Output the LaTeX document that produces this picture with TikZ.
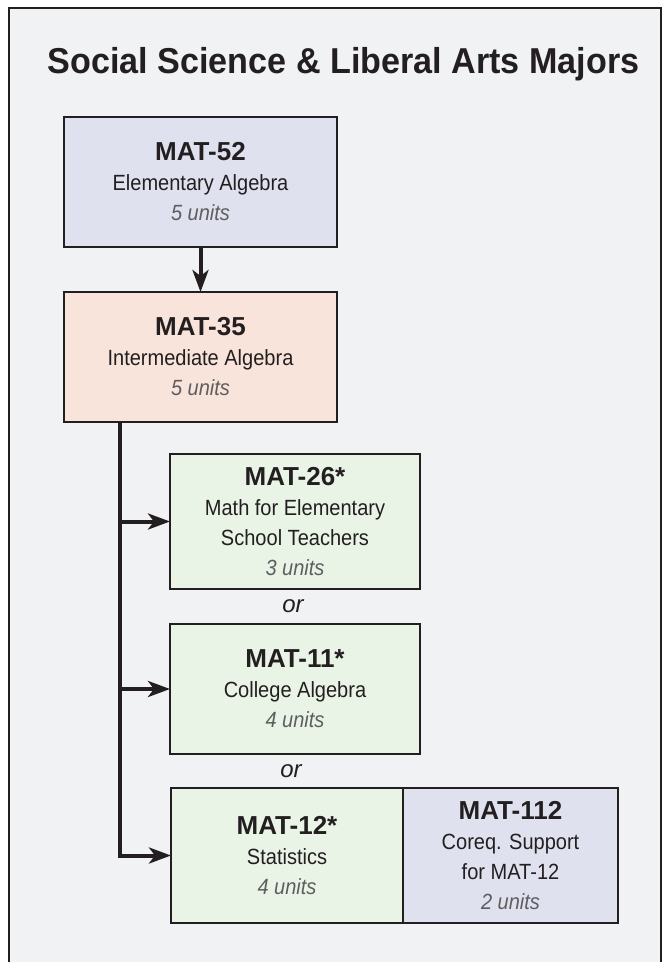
\documentclass[tikz,border=0pt]{standalone}
\usepackage{fontspec}
\setmainfont{Liberation Sans}
\newfontfamily\regf[FakeStretch=0.91]{Liberation Sans}
\newfontfamily\titlef[FakeStretch=0.948]{Liberation Sans}
\usetikzlibrary{arrows.meta}
\definecolor{bgc}{HTML}{F1F2F4}
\definecolor{ink}{HTML}{231F20}
\definecolor{lav}{HTML}{DFE1EE}
\definecolor{peach}{HTML}{F9E4DB}
\definecolor{mint}{HTML}{E9F4E7}
\definecolor{unitc}{HTML}{5E5E60}
\newcommand{\unitsline}[1]{{\regf\itshape\color{unitc}#1}}
\newcommand{\regline}[1]{{\regf #1}}
\newcommand{\codeline}[1]{{\fontsize{26}{30}\selectfont\bfseries #1}}
\tikzset{
  course/.style={draw=ink, line width=2pt, inner sep=0pt, outer sep=0pt, align=center, text=ink,
    font=\fontsize{22}{30}\selectfont},
  lavbox/.style={course, fill=lav},
  peachbox/.style={course, fill=peach},
  mintbox/.style={course, fill=mint},
  conn/.style={draw=ink, line width=4pt, -{Stealth[length=22pt,width=16pt,inset=6pt]}},
  ortext/.style={text=ink, inner sep=0pt, font=\fontsize{24}{28}\selectfont\itshape},
  frameline/.style={draw=ink, line width=2pt}
}
\begin{document}
\begin{tikzpicture}[x=1pt,y=-1pt]
\useasboundingbox (0,0) rectangle (670,962);
\fill[white] (0,0) rectangle (670,962);
\fill[bgc] (9,8) rectangle (661,962);
\draw[frameline] (9,962) -- (9,8) -- (661,8) -- (661,962);

\node[text=ink, anchor=base, inner sep=0pt, font=\fontsize{36}{40}\selectfont\titlef\bfseries] (title) at (343.5,73) {Social Science \& Liberal Arts Majors};

\node[lavbox, minimum width=273pt, minimum height=130pt] (b1) at (200.5,182)
  {\codeline{MAT-52}\\\regline{Elementary Algebra}\\\unitsline{5 units}};
\node[peachbox, minimum width=273pt, minimum height=130pt] (b2) at (200.5,357)
  {\codeline{MAT-35}\\\regline{Intermediate Algebra}\\\unitsline{5 units}};
\node[mintbox, minimum width=250pt, minimum height=135pt] (b26) at (295,521.5)
  {\codeline{MAT-26*}\\\regline{Math for Elementary}\\\regline{School Teachers}\\\unitsline{3 units}};
\node[mintbox, minimum width=250pt, minimum height=130pt] (b11) at (295,689)
  {\codeline{MAT-11*}\\\regline{College Algebra}\\\unitsline{4 units}};
\node[mintbox, minimum width=232pt, minimum height=135pt] (b12) at (287,855.5)
  {\codeline{MAT-12*}\\\regline{Statistics}\\\unitsline{4 units}};
\node[lavbox, minimum width=215pt, minimum height=135pt] (b112) at (510.5,855.5)
  {\codeline{MAT-112}\\\regline{Coreq. Support}\\\regline{for MAT-12}\\\unitsline{2 units}};

\node[ortext, anchor=base] (or1) at (293,612) {or};
\node[ortext, anchor=base] (or2) at (291,777) {or};

\coordinate (trunk) at (120,422);
\draw[conn] (b1.south) -- (b2.north);
\draw[conn] (trunk) |- (b12.west);
\draw[conn] (trunk |- b26.west) -- (b26.west);
\draw[conn] (trunk |- b11.west) -- (b11.west);
\end{tikzpicture}
\end{document}
